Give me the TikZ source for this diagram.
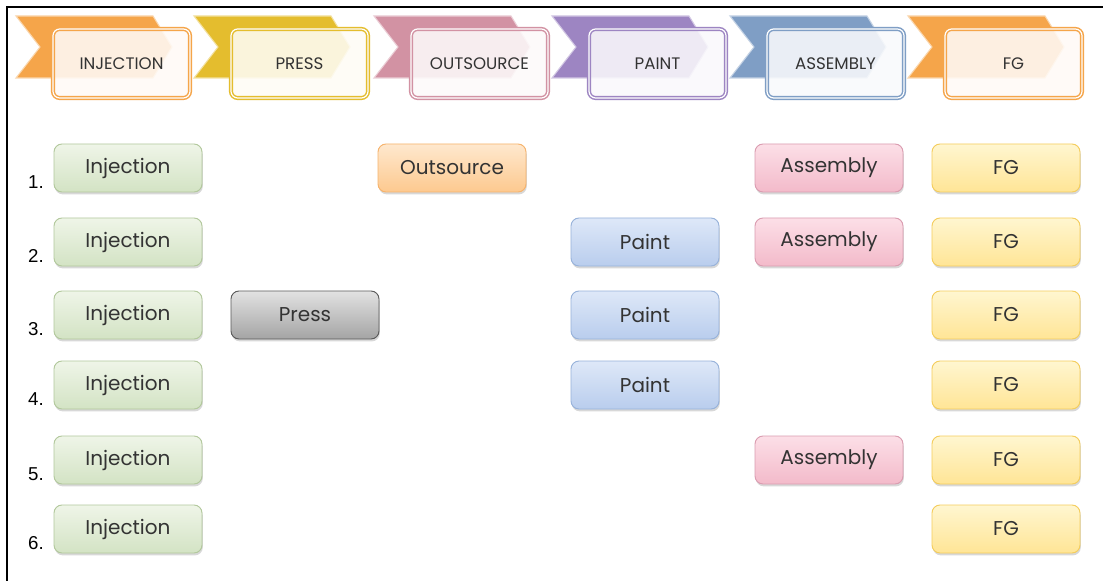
\documentclass[tikz,border=0pt]{standalone}
\usepackage{fontspec}
\setmainfont{Poppins}
\newfontfamily\numfont{Liberation Sans}
\usetikzlibrary{shadows}

% stage colours
\definecolor{injorange}{HTML}{F5A54A}
\definecolor{pressgold}{HTML}{E4BD2E}
\definecolor{outpink}{HTML}{D292A3}
\definecolor{paintpurple}{HTML}{9D85C2}
\definecolor{asmblue}{HTML}{7F9EC5}
\definecolor{txt}{HTML}{333333}
% card colours: top, bottom, border
\definecolor{injT}{HTML}{EFF5E8}\definecolor{injB}{HTML}{D3E3C4}\definecolor{injD}{HTML}{B2C89C}
\definecolor{prsT}{HTML}{E2E2E2}\definecolor{prsB}{HTML}{A4A4A4}\definecolor{prsD}{HTML}{5A5A5A}
\definecolor{outT}{HTML}{FEE8CE}\definecolor{outB}{HTML}{FDC98F}\definecolor{outD}{HTML}{F6B36C}
\definecolor{pntT}{HTML}{DEE8F8}\definecolor{pntB}{HTML}{B9CDED}\definecolor{pntD}{HTML}{97B2DA}
\definecolor{asmT}{HTML}{FCDFE7}\definecolor{asmB}{HTML}{F3BACA}\definecolor{asmD}{HTML}{DA9CB0}
\definecolor{fgT}{HTML}{FFF6D0}\definecolor{fgB}{HTML}{FFE596}\definecolor{fgD}{HTML}{F4CD5C}

\begin{document}
\begin{tikzpicture}[x=0.75pt,y=-0.75pt,
  hbox/.style={rounded corners=5pt, minimum width=102.75pt, minimum height=51.75pt,
    inner sep=0pt, line width=1.1pt, double=white, double distance=0.9pt,
    fill opacity=0.88, text opacity=1, text=txt,
    font=\fontsize{12.5}{14}\selectfont},
  card/.style={rounded corners=6pt, minimum width=111pt, minimum height=36pt,
    inner sep=0pt, line width=0.7pt, text=txt,
    font=\fontsize{15}{17}\selectfont,
    drop shadow={opacity=0.3, shadow xshift=0.6pt, shadow yshift=-1.8pt}},
  injcard/.style={card, draw=injD, top color=injT, bottom color=injB},
  presscard/.style={card, draw=prsD, top color=prsT, bottom color=prsB},
  outcard/.style={card, draw=outD, top color=outT, bottom color=outB},
  paintcard/.style={card, draw=pntD, top color=pntT, bottom color=pntB},
  asmcard/.style={card, draw=asmD, top color=asmT, bottom color=asmB},
  fgcard/.style={card, draw=fgD, top color=fgT, bottom color=fgB},
  rownum/.style={font=\numfont\fontsize{14}{16}\selectfont, text=black}
]
\useasboundingbox (0,0) rectangle (1103,581);
\fill[white] (0,0) rectangle (1103,581);

% frame lines
\draw[line width=1.6pt] (7,581) -- (7,7) -- (1103,7);

% header: chevron behind a framed label
\foreach \L/\c/\t/\n in {16/injorange/INJECTION/hinj, 194/pressgold/PRESS/hpress,
    374/outpink/OUTSOURCE/hout, 552/paintpurple/PAINT/hpaint,
    730/asmblue/ASSEMBLY/hasm, 908/injorange/FG/hfg}{
  \fill[\c, draw=\c!45, line width=0.8pt]
    (\L,16) -- (\L+137,16) -- (\L+156,47) -- (\L+137,78) -- (\L,78) -- (\L+24,47) -- cycle;
  \node[hbox, draw=\c, fill=\c!5] (\n) at (\L+105.5,63.5) {\t};
}

% row numbers
\foreach \y/\k in {168/1,242/2,315/3,385/4,460/5,529/6}
  \node[rownum] (num\k) at (36,\y+14) {\k.};

% injection column
\foreach \y/\k in {168/1,242/2,315/3,385/4,460/5,529/6}
  \node[injcard] (inj\k) at (128,\y) {Injection};

% press
\node[presscard] (press3) at (305,315) {Press};

% outsource
\node[outcard] (out1) at (452,168) {Outsource};

% paint
\node[paintcard] (paint2) at (645,242) {Paint};
\node[paintcard] (paint3) at (645,315) {Paint};
\node[paintcard] (paint4) at (645,385) {Paint};

% assembly
\node[asmcard] (asm1) at (829,168) {Assembly};
\node[asmcard] (asm2) at (829,242) {Assembly};
\node[asmcard] (asm5) at (829,460) {Assembly};

% finished goods
\foreach \y/\k in {168/1,242/2,315/3,385/4,460/5,529/6}
  \node[fgcard] (fg\k) at (1006,\y) {FG};
\end{tikzpicture}
\end{document}
